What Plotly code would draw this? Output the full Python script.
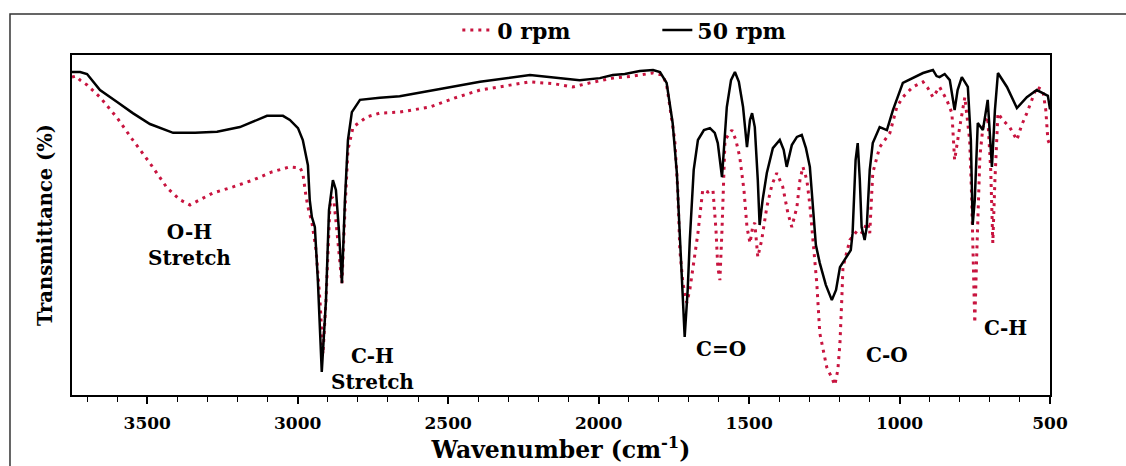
import plotly.graph_objects as go

# ---- data (wavenumber in cm-1, transmittance in %) ----
wn_50 = [3750, 3723, 3700, 3657, 3600, 3548, 3491, 3414, 3341, 3268, 3192, 3102, 3049, 3026,
         2999, 2983, 2966, 2960, 2953, 2943, 2933, 2920, 2906, 2896, 2883, 2873, 2863, 2853,
         2843, 2833, 2820, 2793, 2727, 2661, 2527, 2394, 2228, 2128, 2063, 1996, 1953, 1913,
         1863, 1819, 1796, 1774, 1754, 1740, 1727, 1714, 1704, 1697, 1684, 1670, 1650, 1630,
         1614, 1604, 1590, 1580, 1574, 1560, 1547, 1534, 1520, 1507, 1497, 1490, 1481, 1471,
         1465, 1455, 1441, 1421, 1398, 1385, 1375, 1358, 1341, 1325, 1311, 1298, 1288, 1278,
         1265, 1245, 1225, 1211, 1198, 1176, 1162, 1156, 1146, 1139, 1132, 1126, 1116, 1109,
         1099, 1089, 1066, 1042, 1022, 989, 956, 922, 889, 877, 867, 850, 833, 817, 807, 793,
         773, 763, 757, 750, 740, 723, 707, 693, 683, 673, 643, 610, 577, 544, 524, 507, 500]
t_50 = [95.0, 95.0, 94.4, 89.7, 86.2, 82.9, 79.7, 77.1, 77.1, 77.4, 78.8, 82.1, 82.1, 80.9,
        78.5, 75.0, 67.6, 57.4, 52.4, 49.4, 33.8, 6.8, 27.9, 54.4, 63.2, 60.3, 48.5, 32.9,
        57.4, 75.0, 83.2, 86.8, 87.4, 87.9, 90.0, 92.1, 94.1, 93.2, 92.6, 93.2, 94.1, 94.4,
        95.3, 95.6, 95.0, 91.8, 80.0, 65.3, 39.7, 17.1, 30.9, 45.6, 66.2, 75.0, 77.9, 78.5,
        77.1, 74.1, 64.1, 77.9, 84.7, 92.6, 95.0, 92.1, 84.7, 72.9, 80.9, 82.9, 78.8, 63.2,
        50.0, 57.4, 65.3, 72.6, 75.0, 72.1, 67.1, 73.5, 75.9, 76.5, 72.6, 67.1, 55.9, 44.1,
        38.8, 32.4, 27.9, 30.9, 37.6, 40.6, 42.6, 47.6, 69.1, 74.1, 63.2, 49.4, 45.6, 49.4,
        66.2, 74.1, 78.8, 77.9, 83.8, 91.8, 93.2, 94.7, 95.6, 93.8, 93.5, 94.4, 92.6, 83.8,
        89.7, 93.5, 90.6, 75.0, 50.0, 57.4, 80.0, 77.9, 86.8, 67.1, 83.8, 94.7, 90.6, 84.4,
        87.6, 89.7, 88.8, 88.0, 84.0]

wn_0 = [3750, 3737, 3723, 3700, 3657, 3600, 3548, 3491, 3434, 3391, 3358, 3325, 3282, 3215,
        3149, 3086, 3026, 2992, 2983, 2973, 2966, 2953, 2939, 2926, 2916, 2906, 2893, 2886,
        2880, 2870, 2853, 2843, 2833, 2816, 2770, 2727, 2661, 2561, 2477, 2394, 2311, 2228,
        2145, 2086, 2029, 1953, 1886, 1819, 1787, 1774, 1763, 1747, 1737, 1730, 1720, 1707,
        1697, 1687, 1670, 1654, 1637, 1620, 1610, 1604, 1597, 1590, 1580, 1557, 1544, 1531,
        1517, 1507, 1497, 1487, 1481, 1471, 1458, 1441, 1424, 1408, 1388, 1371, 1358, 1341,
        1331, 1321, 1308, 1298, 1288, 1275, 1265, 1242, 1225, 1215, 1205, 1198, 1192, 1188,
        1165, 1156, 1139, 1122, 1112, 1105, 1099, 1089, 1066, 1032, 1009, 989, 956, 922, 906,
        889, 867, 843, 826, 817, 807, 800, 783, 767, 760, 750, 743, 733, 723, 707, 697, 690,
        683, 673, 657, 634, 610, 594, 577, 544, 524, 514, 507, 500]
t_0 = [93.5, 93.8, 92.6, 91.2, 87.6, 81.5, 75.0, 68.2, 60.9, 57.4, 55.9, 57.4, 59.4, 61.2,
       63.2, 65.6, 67.1, 66.8, 65.3, 58.8, 55.3, 50.9, 42.6, 27.9, 12.0, 27.9, 55.3, 58.2,
       57.4, 48.5, 32.9, 54.4, 72.1, 78.8, 81.8, 82.9, 83.2, 84.7, 87.4, 89.7, 90.9, 92.1,
       91.5, 90.6, 91.8, 93.2, 93.8, 94.7, 94.1, 91.2, 84.7, 75.0, 60.3, 42.6, 32.9, 27.1,
       30.9, 37.6, 47.6, 60.3, 59.7, 60.3, 48.5, 37.6, 33.8, 48.5, 75.0, 77.9, 75.0, 70.0,
       60.3, 49.4, 44.7, 50.0, 50.6, 40.6, 45.6, 55.3, 61.8, 65.3, 61.2, 53.5, 49.4, 55.3,
       63.2, 67.1, 63.2, 55.9, 45.6, 32.9, 18.2, 8.2, 5.0, 2.9, 7.4, 15.3, 27.9, 37.6,
       45.6, 46.5, 48.5, 47.6, 50.0, 50.6, 47.6, 65.3, 72.9, 77.1, 84.7, 87.6, 90.6, 92.1, 90.3,
       87.6, 90.6, 86.8, 82.9, 69.1, 75.0, 78.8, 87.6, 75.0, 57.4, 21.2, 42.6, 70.0, 78.8, 81.8, 66.2, 44.7,
       63.2, 82.9, 80.9, 78.8, 75.0, 79.4, 82.9, 90.6, 89.7, 83.8, 75.0, 73.5]

series_names = ["0 rpm", "50 rpm"]

# band labels: (text, wavenumber, transmittance)
band_text = ["O-H<br>Stretch", "C-H<br>Stretch", "C=O", "C-O", "C-H"]
band_wn = [3358, 2752, 1594, 1042, 647]
band_t = [44.0, 7.6, 13.5, 11.8, 19.7]

FONT = "DejaVu Serif"

fig = go.Figure()
fig.add_trace(go.Scatter(x=wn_0, y=t_0, mode="lines", name=series_names[0],
                         line=dict(color="#C8143F", width=3, dash="3px,5px")))
fig.add_trace(go.Scatter(x=wn_50, y=t_50, mode="lines", name=series_names[1],
                         line=dict(color="black", width=2.5)))

for txt, xv, yv in zip(band_text, band_wn, band_t):
    fig.add_annotation(x=xv, y=yv, xref="x", yref="y", text="<b>%s</b>" % txt,
                       showarrow=False, font=dict(family=FONT, size=20, color="black"),
                       align="center")

# outer frame of the figure
fig.add_shape(type="rect", xref="paper", yref="paper",
              x0=-0.0634, x1=1.09, y0=-0.25, y1=1.1206,
              line=dict(color="#333333", width=1.5), layer="below")

fig.update_layout(
    width=1126, height=466,
    margin=dict(l=72, r=76, t=55, b=71, autoexpand=False),
    paper_bgcolor="white", plot_bgcolor="white",
    font=dict(family=FONT, color="black"),
    showlegend=True,
    legend=dict(orientation="h", x=0.394, xanchor="left", y=1.073, yanchor="middle",
                font=dict(family=FONT, size=22, color="black", weight="bold"),
                entrywidth=155, bgcolor="rgba(0,0,0,0)"),
    xaxis=dict(range=[3750, 500], tickmode="linear", tick0=500, dtick=500,
               ticks="outside", ticklen=7, tickwidth=1.5, tickcolor="black",
               minor=dict(dtick=100, ticks="outside", ticklen=5, tickcolor="black", tickwidth=1.2),
               showline=True, linecolor="black", linewidth=1.5, mirror=True,
               showgrid=False, zeroline=False, automargin=False, ticklabelstandoff=5,
               tickfont=dict(family=FONT, size=17, color="black", weight="bold"),
               title=dict(text="<b>Wavenumber (cm<sup>-1</sup>)</b>", standoff=4,
                          font=dict(family=FONT, size=23.5, color="black"))),
    yaxis=dict(range=[0, 100], showticklabels=False, ticks="",
               showline=True, linecolor="black", linewidth=1.5, mirror=True,
               showgrid=False, zeroline=False, automargin=False,
               title=dict(text="<b>Transmittance (%)</b>", standoff=12,
                          font=dict(family=FONT, size=19.5, color="black"))),
)

fig.write_html("out.html", config={"displayModeBar": False},
               post_script="document.body.style.margin='0px';")
